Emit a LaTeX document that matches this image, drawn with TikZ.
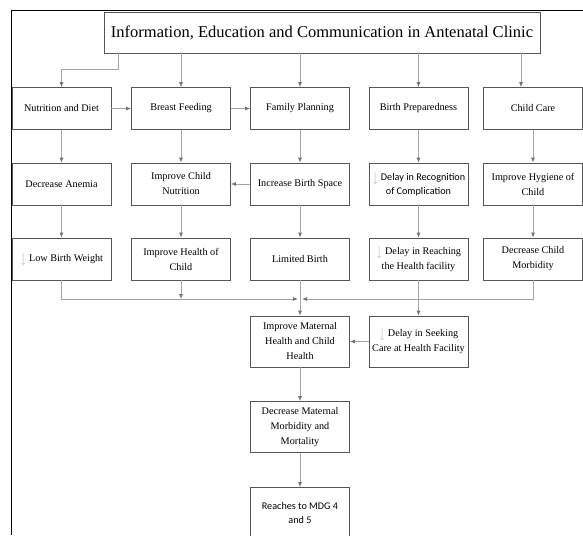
\documentclass[tikz,border=0pt]{standalone}
\usepackage{amsmath}
\usepackage{fontspec}
\setmainfont{Liberation Serif}
\newfontfamily\calibrifont{Carlito}
\usepackage{xcolor}
\usepackage{tikz}
\usetikzlibrary{shapes,arrows.meta,positioning}
\definecolor{linkgray}{RGB}{165,165,165}
\definecolor{tipgray}{RGB}{115,115,115}
\definecolor{boxgray}{RGB}{85,85,85}
\newcommand{\downmark}{\raisebox{-0.5pt}{\textcolor{linkgray}{$\big\downarrow$}}\hspace{2.5pt}}
\tikzstyle{block} = [rectangle, draw=boxgray, line width=0.7pt, align=center,
    minimum width=99pt, minimum height=42pt, inner sep=1pt, font=\fontsize{10.2}{15}\selectfont]
\tikzstyle{tallblock} = [block, minimum height=51pt]
\tikzstyle{sansblock} = [block, font=\calibrifont\fontsize{10.2}{14}\selectfont]
\tikzstyle{titleblock} = [rectangle, draw=boxgray, line width=0.7pt,
    minimum width=436pt, minimum height=41pt, font=\fontsize{16.5}{20}\selectfont]
\tikzstyle{arrow} = [draw=linkgray, -{Latex[length=5pt,width=4pt,color=tipgray]}, line width=0.8pt]
\tikzstyle{frame} = [draw=black, line width=0.9pt]

\begin{document}
\begin{tikzpicture}[x=1pt, y=-1pt]
			\useasboundingbox (0,0) rectangle (583,535);
			\draw [frame] (583,10) -- (11.5,10) -- (11.5,535);
			% Place nodes
			\node [titleblock] (iec) at (322,32.5) {Information, Education and Communication in Antenatal Clinic};
			\node [block] (nutrition) at (61.5,108.5) {Nutrition and Diet};
			\node [block, right of=nutrition, node distance=119.5pt] (breastFeeding) {Breast Feeding};
			\node [block, right of=breastFeeding, node distance=119pt] (familyPlanning) {Family Planning};
			\node [block, right of=familyPlanning, node distance=118.5pt] (birthPreparedness) {Birth Preparedness};
			\node [block, right of=birthPreparedness, node distance=114.5pt] (childCare) {Child Care};
			\node [block, below of=nutrition, node distance=75.5pt] (decreaseAnemia) {Decrease Anemia};
			\node [block, below of=breastFeeding, node distance=75.5pt] (improveChildNutrition) {Improve Child\\Nutrition};
			\node [block, below of=familyPlanning, node distance=75.5pt] (increaseBirthSpace) {Increase Birth Space};
			\node [sansblock, below of=birthPreparedness, node distance=75.5pt] (delayRecognition) {\downmark Delay in Recognition\\of Complication};
			\node [block, below of=childCare, node distance=75.5pt] (improveHygiene) {Improve Hygiene of\\Child};
			\node [block, below of=decreaseAnemia, node distance=75pt] (lowBirthWeight) {\downmark Low Birth Weight};
			\node [block, below of=improveChildNutrition, node distance=75pt] (improveHealthChild) {Improve Health of\\Child};
			\node [block, below of=increaseBirthSpace, node distance=75pt] (limitedBirth) {Limited Birth};
			\node [block, below of=delayRecognition, node distance=75pt] (delayReaching) {\downmark Delay in Reaching\\the Health facility};
			\node [block, below of=improveHygiene, node distance=75pt] (decreaseChildMorbidity) {Decrease Child\\Morbidity};
			\node [tallblock, below of=limitedBirth, node distance=82.5pt] (improveMaternalHealth) {Improve Maternal\\Health and Child\\Health};
			\node [tallblock, below of=delayReaching, node distance=82.5pt] (delaySeeking) {\downmark Delay in Seeking\\Care at Health Facility};
			\node [tallblock, below of=improveMaternalHealth, node distance=85.5pt] (decreaseMortality) {Decrease Maternal\\Morbidity and\\Mortality};
			\node [sansblock, minimum height=51pt, below of=decreaseMortality, node distance=86pt] (reachesMDG) {Reaches to MDG 4\\and 5};
			\coordinate [below of=limitedBirth, node distance=40pt] (bus);
			% Connectors
			\path [arrow] ([xshift=-204pt]iec.south) -- ++(0pt,-16pt) -| (nutrition);
			\path [arrow] (iec.south -| breastFeeding) -- (breastFeeding);
			\path [arrow] (iec.south -| familyPlanning) -- (familyPlanning);
			\path [arrow] (iec.south -| birthPreparedness) -- (birthPreparedness);
			\path [arrow] ([xshift=199pt]iec.south) -- ([xshift=-12pt]childCare.north);
			\path [arrow] (nutrition) -- (breastFeeding);
			\path [arrow] (breastFeeding) -- (familyPlanning);
			\path [arrow] (nutrition) -- (decreaseAnemia);
			\path [arrow] (breastFeeding) -- (improveChildNutrition);
			\path [arrow] (familyPlanning) -- (increaseBirthSpace);
			\path [arrow] (birthPreparedness) -- (delayRecognition);
			\path [arrow] (childCare) -- (improveHygiene);
			\path [arrow] (increaseBirthSpace) -- (improveChildNutrition);
			\path [arrow] (decreaseAnemia) -- (lowBirthWeight);
			\path [arrow] (improveChildNutrition) -- (improveHealthChild);
			\path [arrow] (increaseBirthSpace) -- (limitedBirth);
			\path [arrow] (delayRecognition) -- (delayReaching);
			\path [arrow] (improveHygiene) -- (decreaseChildMorbidity);
			\path [arrow] (lowBirthWeight.south) |- ([xshift=-2pt]bus);
			\path [arrow] (improveHealthChild) -- (improveHealthChild |- bus);
			\path [arrow] (decreaseChildMorbidity.south) |- ([xshift=2pt]bus);
			\path [arrow] (limitedBirth) -- (improveMaternalHealth);
			\path [arrow] (delayReaching) -- (delaySeeking);
			\path [arrow] (delaySeeking) -- (improveMaternalHealth);
			\path [arrow] (improveMaternalHealth) -- (decreaseMortality);
			\path [arrow] (decreaseMortality) -- (reachesMDG);
	\end{tikzpicture}
\end{document}
